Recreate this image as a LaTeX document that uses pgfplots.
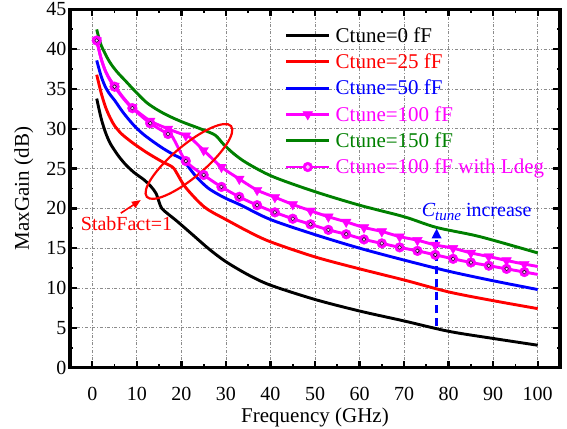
\documentclass[border=0pt]{standalone}
\usepackage{fontspec}
\setmainfont{Liberation Serif}
\usepackage{pgfplots}
\pgfplotsset{compat=1.18}
\usetikzlibrary{arrows.meta,shapes.geometric}
\definecolor{ogreen}{RGB}{0,128,0}
\definecolor{omag}{RGB}{255,0,255}

\pgfplotsset{ldegimg/.style={legend image code/.code={\draw[omag, line width=2.9pt] (0pt,0pt) -- (43pt,0pt); \fill[omag] (21.5pt,0pt) circle (4.9pt); \fill[omag!25!white] (21.5pt,0pt) circle (1.9pt);}}}

\pgfplotstableread{
f g
1 33.8
2 31.3
3 29.5
4 28.2
5 27.3
6 26.5
7.5 25.5
9.4 24.5
11.6 23.6
13.1 22.8
14.3 21.9
15 20.8
15.6 20.0
17 19.3
19 18.4
22.5 16.7
26.3 14.85
30 13.3
35 11.65
40 10.35
50 8.55
60 7.1
70 5.85
80 4.55
90 3.65
100 2.8
}\tzero

\pgfplotstableread{
f g
1 36.8
2 34.5
3 32.7
4 31.4
5 30.4
6.5 29.4
8 28.7
9.4 28.1
12 27.1
13.9 26.45
15.75 25.85
18 25.2
18.8 24.6
20.6 22.9
22.9 21.4
25.1 20.2
27 19.5
30 18.6
35 17.1
40 15.8
50 13.9
60 12.4
70 11.0
80 9.5
90 8.4
100 7.4
}\ttwentyfive

\pgfplotstableread{
f g
1 38.6
2 36.6
3 35.2
4 34.3
5 33.6
7 32.0
9.4 30.4
11.5 29.3
13.9 28.3
16 27.5
18.4 26.7
20.3 26.1
23.3 24.0
25.9 22.6
28 21.85
30 21.25
33.4 20.4
40 18.6
50 16.7
60 15.0
70 13.5
80 12.1
90 10.9
100 9.8
}\tfifty

\pgfplotstableread{
f g
1 42.5
2 40.5
3.8 38.5
5.5 37.2
7.5 36.0
9.5 34.8
12 33.4
14 32.6
16 31.95
18 31.4
20.5 30.8
24.75 29.9
27.6 29.2
29.4 28.1
31.7 26.9
34.7 25.7
40.5 24.0
50 22.1
60 20.4
70 18.95
77.3 17.6
87 16.45
100 14.4
}\tonefifty

\pgfplotstableread{
f g
1 41.1
2 38.8
3 37.2
4 36.2
5 35.4
7 33.9
9 32.7
13 31.0
17 30.0
21 29.15
22 28.9
25 27.3
29 25.2
33 23.7
37 22.3
41 21.4
45 20.5
49 19.7
53 18.95
57 18.3
61 17.6
65 17.1
69 16.45
73 16.0
77 15.4
81 15.0
85 14.4
89 13.95
93 13.45
97 13.0
100 12.7
}\thundred

\pgfplotstableread{
f g
1 41.1
5 35.4
9 32.7
13 31.0
17 30.0
21 29.15
25 27.3
29 25.2
33 23.7
37 22.3
41 21.4
45 20.5
49 19.7
53 18.95
57 18.3
61 17.6
65 17.1
69 16.45
73 16.0
77 15.4
81 15.0
85 14.4
89 13.95
93 13.45
97 13.0
}\thundredmarks

\pgfplotstableread{
f g
1 41.1
2 38.8
3 37.2
4 36.1
5 35.3
7 33.8
9 32.6
13 30.7
17 29.35
18 29.0
21 25.95
25 24.2
29 22.7
33 21.45
37 20.4
41 19.5
45 18.7
49 18.0
53 17.3
57 16.75
61 16.1
65 15.6
69 15.1
73 14.66
77 14.16
81 13.66
85 13.2
89 12.8
93 12.4
97 12.0
100 11.7
}\tldeg

\pgfplotstableread{
f g
1 41.1
5 35.3
9 32.6
13 30.7
17 29.35
21 25.95
25 24.2
29 22.7
33 21.45
37 20.4
41 19.5
45 18.7
49 18.0
53 17.3
57 16.75
61 16.1
65 15.6
69 15.1
73 14.66
77 14.16
81 13.66
85 13.2
89 12.8
93 12.4
97 12.0
}\tldegmarks

\begin{document}
\begin{tikzpicture}
\begin{axis}[
  scale only axis, width=490pt, height=358pt,
  xmin=-5, xmax=105, ymin=0, ymax=45,
  xtick={0,10,...,100}, ytick={0,5,...,45},
  minor x tick num=1, minor y tick num=1,
  tick align=inside,
  major tick length=7pt, minor tick length=3.5pt,
  major tick style={line width=2.4pt, black},
  minor tick style={line width=1.8pt, black},
  axis line style={line width=3.5pt},
  grid=major,
  major grid style={black!45, dash dot, line width=0.7pt},
  tick label style={font=\fontsize{20}{24}\selectfont},
  xticklabel style={yshift=-16pt},
  /pgf/number format/assume math mode=true,
  xlabel={Frequency (GHz)}, ylabel={MaxGain (dB)},
  xlabel style={font=\fontsize{21}{25}\selectfont, at={(axis description cs:0.5,-0.153)}, anchor=base},
  ylabel style={font=\fontsize{21}{25}\selectfont, at={(axis description cs:-0.094,0.5)}, anchor=center},
  legend cell align=left,
  legend image code/.code={\draw[mark repeat=2,mark phase=2,#1] plot coordinates {(0pt,0pt) (21.5pt,0pt) (43pt,0pt)};},
  legend style={draw=none, fill=none, at={(axis description cs:0.438,0.956)}, anchor=north west,
    font=\fontsize{21}{25}\selectfont, inner sep=0pt, row sep=6pt, column sep=3pt},
  every axis plot/.append style={smooth, tension=0.5},
]
\addplot[black, line width=2.9pt, forget plot] table[x=f,y=g] {\tzero};
\addplot[red, line width=2.9pt, forget plot] table[x=f,y=g] {\ttwentyfive};
\addplot[blue, line width=2.9pt, forget plot] table[x=f,y=g] {\tfifty};
\addplot[ogreen, line width=2.9pt, forget plot] table[x=f,y=g] {\tonefifty};
\addplot[omag, line width=2.9pt, forget plot] table[x=f,y=g] {\thundred};
\addplot[only marks, mark=triangle*, mark size=5.6pt, mark options={rotate=180, fill=omag, draw=omag, line width=0.4pt}, forget plot] table[x=f,y=g] {\thundredmarks};
\addplot[omag, line width=2.9pt, forget plot] table[x=f,y=g] {\tldeg};
\addplot[only marks, mark=*, mark size=4.9pt, mark options={fill=omag, draw=omag, line width=0.4pt}, forget plot] table[x=f,y=g] {\tldegmarks};
\addplot[only marks, mark=*, mark size=1.9pt, mark options={fill=omag!25!white, draw=none}, forget plot] table[x=f,y=g] {\tldegmarks};

\addlegendimage{black, line width=2.9pt, sharp plot}
\addlegendentry[text=black]{Ctune=0 fF}
\addlegendimage{red, line width=2.9pt, sharp plot}
\addlegendentry[text=red]{Ctune=25 fF}
\addlegendimage{blue, line width=2.9pt, sharp plot}
\addlegendentry[text=blue]{Ctune=50 fF}
\addlegendimage{omag, line width=2.9pt, sharp plot, mark=triangle*, mark size=5.6pt, mark options={rotate=180, fill=omag, line width=0.4pt}}
\addlegendentry[text=omag]{Ctune=100 fF}
\addlegendimage{ogreen, line width=2.9pt, sharp plot}
\addlegendentry[text=ogreen]{Ctune=150 fF}
\addlegendimage{ldegimg}
\addlegendentry[text=omag]{Ctune=100 fF with Ldeg}

\node[draw=red, line width=2.2pt, ellipse, minimum width=110pt, minimum height=32pt, inner sep=0pt, rotate=40] at (axis cs:21.7,25.9) {};
\node[red, anchor=base, font=\fontsize{20}{24}\selectfont, inner sep=0pt] at (axis cs:7.7,17.2) {StabFact=1};
\draw[red, line width=1.6pt, -{Triangle[length=9pt,width=7pt]}] (axis cs:6.4,19.4) -- (axis cs:10.9,21.05);
\draw[blue, line width=2.6pt, dash pattern=on 8pt off 5pt, -{Triangle[length=10pt,width=9pt]}] (axis cs:77.3,5.2) -- (axis cs:77.3,17.5);
\node[blue, anchor=base, font=\fontsize{20}{24}\selectfont, inner sep=0pt] at (axis cs:86.3,18.95) {{\itshape C}\raisebox{-0.45ex}{\fontsize{15}{18}\selectfont\itshape tune} increase};
\end{axis}
\pgfresetboundingbox
\path[use as bounding box] ([shift={(-70pt,-60.7pt)}]current axis.south west) rectangle ([shift={(7pt,9.5pt)}]current axis.north east);
\end{tikzpicture}
\end{document}
